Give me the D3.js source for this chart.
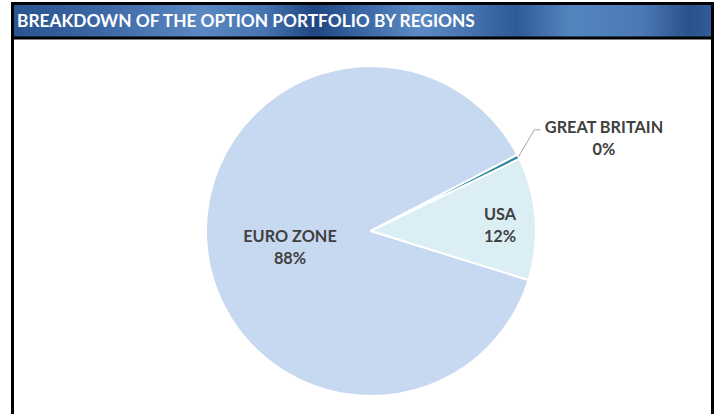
<!DOCTYPE html>
<html>
<head>
<meta charset="utf-8">
<title>Breakdown of the option portfolio by regions</title>
<script src="https://d3js.org/d3.v7.min.js"></script>
<style>
    body { margin: 0; background: #fff; }
</style>
</head>
<body>
<script>
    // data
    var regions = ["EURO ZONE", "GREAT BRITAIN", "USA"];
    var shares = [87.55, 0.45, 12.0];
    var colors = ["#C6D9F1", "#31859C", "#DBEEF4"];

    var W = 715, H = 414;
    var cx = 371, cy = 231, radius = 165;

    var svg = d3.select("body").append("svg")
        .attr("width", W)
        .attr("height", H);

    // header gradient (banded blue)
    var grad = svg.append("defs").append("linearGradient")
        .attr("id", "hdr").attr("x1", "0%").attr("x2", "100%");
    [[0, "#2A5490"], [0.12, "#3B66A3"], [0.27, "#5B88C2"], [0.36, "#4574B0"],
     [0.43, "#1F4680"], [0.5, "#3A67A4"], [0.58, "#5C8AC4"], [0.66, "#4371AE"],
     [0.72, "#2E5A97"], [0.8, "#5585BF"], [0.9, "#4A79B5"], [0.97, "#2A5189"], [1, "#325D98"]]
        .forEach(function(s) {
            grad.append("stop").attr("offset", s[0]).attr("stop-color", s[1]);
        });

    svg.append("rect")
        .attr("x", 12.5).attr("y", 3.5)
        .attr("width", 700).attr("height", 420)
        .attr("fill", "#fff")
        .attr("stroke", "#000").attr("stroke-width", 3);

    svg.append("rect")
        .attr("x", 14).attr("y", 5)
        .attr("width", 697).attr("height", 32)
        .attr("fill", "url(#hdr)");
    svg.append("line")
        .attr("x1", 12).attr("x2", 713)
        .attr("y1", 38).attr("y2", 38)
        .attr("stroke", "#000").attr("stroke-width", 3);

    svg.append("text")
        .attr("x", 17).attr("y", 27)
        .attr("fill", "#fff")
        .style("font-family", "Lato, 'Open Sans', sans-serif")
        .style("font-weight", "bold")
        .style("font-size", "17.3px")
        .text("BREAKDOWN OF THE OPTION PORTFOLIO BY REGIONS");

    var total = d3.sum(shares);
    var data = regions.map(function(r, i) { return {name: r, value: shares[i], color: colors[i]}; });

    var startDeg = 107.3;
    var pie = d3.pie()
        .sort(null)
        .value(function(d) { return d.value; })
        .startAngle(startDeg * Math.PI / 180)
        .endAngle((startDeg + 360) * Math.PI / 180);

    var arc = d3.arc().innerRadius(0).outerRadius(radius);

    var g = svg.append("g").attr("transform", "translate(" + cx + "," + cy + ")");

    var arcs = pie(data);

    g.selectAll("path")
        .data(arcs)
        .enter().append("path")
        .attr("d", arc)
        .attr("fill", function(d) { return d.data.color; })
        .attr("stroke", "#fff")
        .attr("stroke-width", 2)
        .attr("stroke-linejoin", "round");

    // label positions relative to centre
    var labelPos = {
        "EURO ZONE": [-81, 16],
        "GREAT BRITAIN": [233, -93],
        "USA": [129, -6]
    };

    // leader line for the tiny slice
    var gb = arcs[1];
    var mid = (gb.startAngle + gb.endAngle) / 2;
    var ex = Math.sin(mid) * radius, ey = -Math.cos(mid) * radius;
    g.append("polyline")
        .attr("points", [[ex, ey], [ex + 16, ey - 27], [ex + 22, ey - 27]].map(function(p) { return p.join(","); }).join(" "))
        .attr("fill", "none")
        .attr("stroke", "#A6A6A6")
        .attr("stroke-width", 1);

    var labels = g.selectAll(".lbl")
        .data(arcs)
        .enter().append("text")
        .attr("class", "lbl")
        .attr("text-anchor", "middle")
        .attr("fill", "#404040")
        .style("font-family", "Lato, 'Open Sans', sans-serif")
        .style("font-weight", "bold")
        .style("font-size", "16.3px")
        .attr("transform", function(d) {
            var p = labelPos[d.data.name];
            return "translate(" + p[0] + "," + p[1] + ")";
        });

    labels.append("tspan")
        .attr("x", 0).attr("y", -5)
        .text(function(d) { return d.data.name; });
    labels.append("tspan")
        .attr("x", 0).attr("y", 17)
        .text(function(d) { return Math.round(d.data.value / total * 100) + "%"; });
</script>
</body>
</html>
